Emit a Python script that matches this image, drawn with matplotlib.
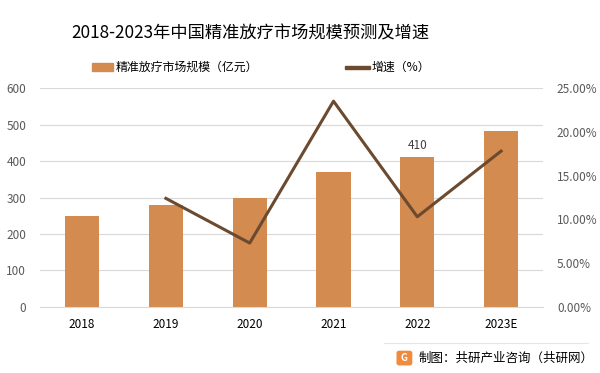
import matplotlib.pyplot as plt
from matplotlib.patches import FancyBboxPatch

plt.rcParams['font.family'] = ['Noto Sans CJK SC', 'DejaVu Sans']

# Data
years = ["2018", "2019", "2020", "2021", "2022", "2023E"]
market_size = [249, 280, 300, 370, 410, 482]
growth = [None, 12.4, 7.3, 23.5, 10.3, 17.8]

bar_color = "#D38B4F"
line_color = "#6B4A2F"

fig = plt.figure(figsize=(6, 3.73), dpi=100)
ax = fig.add_axes([0.067, 0.177, 0.838, 0.587])
ax2 = ax.twinx()

x = list(range(len(years)))
ax.bar(x, market_size, width=0.41, color=bar_color, zorder=2)
ax.set_xlim(-0.5, len(years) - 0.5)
ax.set_ylim(0, 600)
ax.set_yticks(range(0, 601, 100))
ax.grid(axis="y", color="#D9D9D9", linewidth=0.8, zorder=0)
ax.set_xticks(x)
ax.set_xticklabels(years, fontsize=8.5, color="#000000")
ax.tick_params(axis="y", labelsize=8.5, labelcolor="#595959", length=0, pad=10)
ax.tick_params(axis="x", length=0, pad=8)
for s in ["top", "right", "left"]:
    ax.spines[s].set_visible(False)
ax.spines["bottom"].set_color("#D9D9D9")

# value label on 2022
ax.annotate(str(market_size[4]), (4, market_size[4]), xytext=(0, 4),
            textcoords="offset points", ha="center", va="bottom",
            fontsize=8.5, color="#404040")

gx = [i for i, g in zip(x, growth) if g is not None]
gy = [g for g in growth if g is not None]
ax2.plot(gx, gy, color=line_color, linewidth=2.2, zorder=3)
ax2.set_ylim(0, 25)
ax2.set_yticks(range(0, 26, 5))
ax2.set_yticklabels([f"{v:.2f}%" for v in range(0, 26, 5)])
ax2.tick_params(axis="y", labelsize=8.5, labelcolor="#595959", length=0, pad=10)
for s in ax2.spines.values():
    s.set_visible(False)

# title and legend
fig.text(0.418, 0.910, "2018-2023年中国精准放疗市场规模预测及增速", ha="center",
         va="center", fontsize=12.4, color="#000000")
fig.patches.append(plt.Rectangle((0.153, 0.810), 0.036, 0.02, color=bar_color,
                                 transform=fig.transFigure, figure=fig))
fig.text(0.193, 0.820, "精准放疗市场规模（亿元）", va="center", fontsize=8.6)
fig.patches.append(plt.Rectangle((0.575, 0.815), 0.042, 0.009, color=line_color,
                                 transform=fig.transFigure, figure=fig))
fig.text(0.620, 0.820, "增速（%）", va="center", fontsize=8.6)

# footer
fig.add_artist(plt.Line2D([0.64, 0.98], [0.080, 0.080], color="#E6E6E6",
                          linewidth=0.8, transform=fig.transFigure))
fig.patches.append(FancyBboxPatch((0.662, 0.022), 0.024, 0.036,
                                  boxstyle="round,pad=0,rounding_size=0.004",
                                  color="#F08A3C", transform=fig.transFigure,
                                  figure=fig))
fig.text(0.674, 0.040, "G", ha="center", va="center", fontsize=7,
         color="white", fontweight="bold")
fig.text(0.697, 0.040, "制图：共研产业咨询（共研网）", va="center", fontsize=9,
         color="#000000")

plt.savefig("out.png", dpi=100)
